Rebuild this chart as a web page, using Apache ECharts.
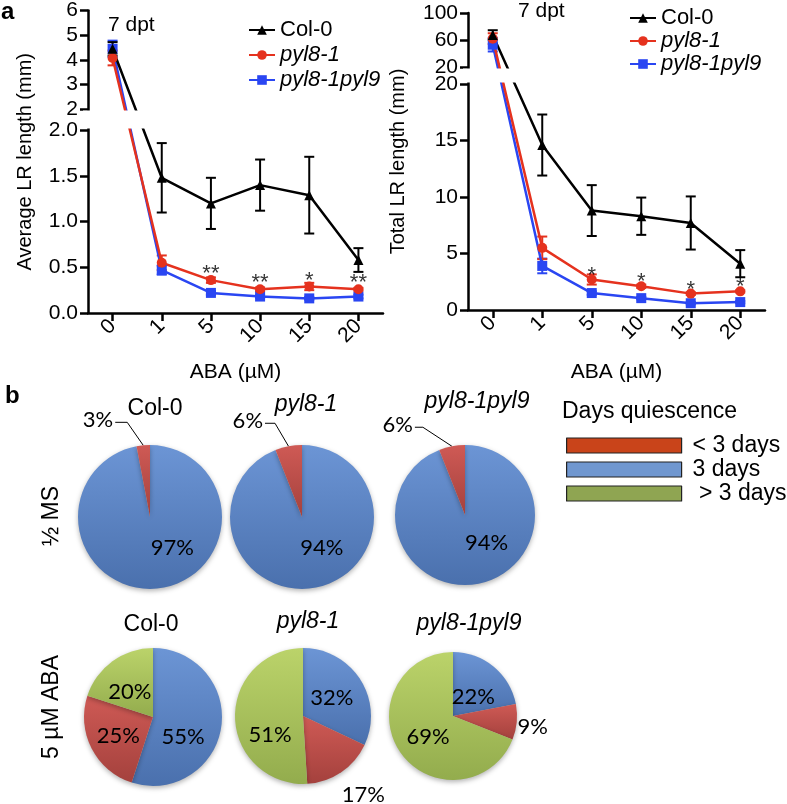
<!DOCTYPE html>
<html><head><meta charset="utf-8">
<script src="https://cdn.jsdelivr.net/npm/echarts@6/dist/echarts.min.js"></script>
<style>html,body{margin:0;padding:0;background:#fff}#c{width:787px;height:804px}</style>
</head><body><div id="c"></div>
<script>
// ---------------- DATA ----------------
const doses = ['0', '1', '5', '10', '15', '20'];
const lineNames = ['Col-0', 'pyl8-1', 'pyl8-1pyl9'];

const avgCol = [4.45, 1.48, 1.20, 1.40, 1.29, 0.58];
const avgColErr = [0.27, 0.38, 0.28, 0.28, 0.42, 0.13];
const avgPyl8 = [4.08, 0.55, 0.36, 0.26, 0.29, 0.26];
const avgPyl8Err = [0.30, 0.08, 0.03, 0.02, 0.04, 0.015];
const avgPyl89 = [4.45, 0.47, 0.22, 0.18, 0.16, 0.18];
const avgPyl89Err = [0.33, 0.05, 0.02, 0.015, 0.015, 0.02];
const avgSig = ['', '', '**', '**', '*', '**'];

const totCol = [67.5, 14.6, 8.8, 8.3, 7.7, 4.1];
const totColErr = [7, 2.7, 2.25, 1.65, 2.35, 1.2];
const totPyl8 = [62, 5.5, 2.7, 2.1, 1.45, 1.65];
const totPyl8Err = [8, 1.0, 0.45, 0.15, 0.12, 0.1];
const totPyl89 = [53, 3.9, 1.5, 1.05, 0.6, 0.7];
const totPyl89Err = [10, 0.65, 0.15, 0.1, 0.1, 0.1];
const totSig = ['', '', '*', '*', '*', '*'];

const avgTicksLow = [0, 0.5, 1, 1.5, 2];
const avgTicksHigh = [2, 3, 4, 5, 6];
const totTicksLow = [0, 5, 10, 15, 20];
const totTicksHigh = [20, 60, 100];

const pieGenotypes = ['Col-0', 'pyl8-1', 'pyl8-1pyl9'];
const quiescenceClasses = ['< 3 days', '3 days', '> 3 days'];
const msThree = [97, 94, 94];
const msLess = [3, 6, 6];
const msMore = [0, 0, 0];
const abaThree = [55, 32, 22];
const abaLess = [25, 17, 9];
const abaMore = [20, 51, 69];

// ---------------- LAYOUT / STYLE ----------------
const FONT = 'Liberation Sans';
const PIEFONT = 'Lato';

function makeBreak(lowMax, highMin, highMax, lowPx, gapPx, highPx) {
  return {
    total: lowPx + gapPx + highPx, lowPx, gapPx, highPx,
    map(v, seg) {
      const high = seg ? seg === 'high' : v > lowMax;
      return high ? lowPx + gapPx + (v - highMin) / (highMax - highMin) * highPx : v / lowMax * lowPx;
    }
  };
}
const avgBrk = makeBreak(2, 2, 6, 183, 21, 99);
const totBrk = makeBreak(20, 20, 100, 226, 17, 54);
const gridDefs = [
  {left: 88, top: 10, width: 295, height: avgBrk.total},
  {left: 468, top: 13, width: 297, height: totBrk.total}
];

function tickList(brk, low, high, lowFmt) {
  return low.map(v => ({pos: brk.map(v, 'low'), label: lowFmt(v)}))
    .concat(high.map(v => ({pos: brk.map(v, 'high'), label: String(v)})));
}
const avgTicks = tickList(avgBrk, avgTicksLow, avgTicksHigh, v => v.toFixed(1));
const totTicks = tickList(totBrk, totTicksLow, totTicksHigh, v => String(v));

const styles = {
  'Col-0': {color: '#000000', symbol: 'triangle', size: 10},
  'pyl8-1': {color: '#E5321E', symbol: 'circle', size: 10},
  'pyl8-1pyl9': {color: '#2A46F2', symbol: 'rect', size: 10}
};

function yAxisFor(gi, brk, ticks, name, nameGap) {
  const pos = ticks.map(t => t.pos);
  return {
    type: 'value', gridIndex: gi, min: 0, max: brk.total,
    name: name, nameLocation: 'middle', nameGap: nameGap,
    nameTextStyle: {fontSize: 20, fontFamily: FONT, color: '#000'},
    axisLine: {show: true, lineStyle: {color: '#000', width: 2.5}},
    axisTick: {show: true, length: 8, lineStyle: {color: '#000', width: 2.5}, customValues: pos},
    axisLabel: {
      customValues: pos, fontSize: 21, fontFamily: FONT, color: '#000', margin: 10,
      formatter: v => { for (const t of ticks) if (Math.abs(t.pos - v) < 0.01) return t.label; return ''; }
    },
    splitLine: {show: false}
  };
}
function xAxisFor(gi, nameGap) {
  return {
    type: 'category', gridIndex: gi, data: doses, boundaryGap: true,
    name: 'ABA (µM)', nameLocation: 'middle', nameGap: nameGap,
    nameTextStyle: {fontSize: 21, fontFamily: FONT, color: '#000'},
    axisLine: {show: true, lineStyle: {color: '#000', width: 2.5}},
    axisTick: {show: true, alignWithLabel: true, length: 8, lineStyle: {color: '#000', width: 2.5}},
    axisLabel: {rotate: 45, fontSize: 21, fontFamily: FONT, color: '#000', margin: 10, interval: 0},
    splitLine: {show: false}
  };
}

function errRender(color) {
  return function (params, api) {
    const x = api.value(0);
    const lo = api.coord([x, api.value(1)]);
    const hi = api.coord([x, api.value(2)]);
    const w = 5;
    const st = {stroke: color, lineWidth: 2};
    return {type: 'group', children: [
      {type: 'line', shape: {x1: lo[0], y1: lo[1], x2: hi[0], y2: hi[1]}, style: st},
      {type: 'line', shape: {x1: lo[0] - w, y1: lo[1], x2: lo[0] + w, y2: lo[1]}, style: st},
      {type: 'line', shape: {x1: hi[0] - w, y1: hi[1], x2: hi[0] + w, y2: hi[1]}, style: st}
    ]};
  };
}

function panelSeries(gi, brk, sets, sig, starOffset) {
  const out = [];
  const order = ['pyl8-1pyl9', 'pyl8-1', 'Col-0'];
  order.forEach(name => {
    const s = sets[name], st = styles[name];
    out.push({
      type: 'custom', xAxisIndex: gi, yAxisIndex: gi, silent: true, z: 3,
      renderItem: errRender(st.color), encode: {x: 0, y: [1, 2]},
      data: s.v.map((v, i) => [i, brk.map(v - s.e[i]), brk.map(v + s.e[i])])
    });
    out.push({
      type: 'line', name: name, xAxisIndex: gi, yAxisIndex: gi, silent: true, z: 4,
      data: s.v.map(v => brk.map(v)),
      symbol: st.symbol, symbolSize: st.size, showSymbol: true,
      lineStyle: {color: st.color, width: 2.5},
      itemStyle: {color: st.color}
    });
  });
  out.push({
    type: 'scatter', xAxisIndex: gi, yAxisIndex: gi, silent: true, z: 6,
    data: sets['pyl8-1'].v.map(v => brk.map(v)),
    symbolSize: 1, itemStyle: {color: 'rgba(0,0,0,0)'},
    label: {show: true, position: 'inside', offset: [0, starOffset], fontSize: 22, fontFamily: FONT, color: '#000',
      formatter: p => sig[p.dataIndex]}
  });
  return out;
}

const avgSets = {
  'Col-0': {v: avgCol, e: avgColErr}, 'pyl8-1': {v: avgPyl8, e: avgPyl8Err}, 'pyl8-1pyl9': {v: avgPyl89, e: avgPyl89Err}
};
const totSets = {
  'Col-0': {v: totCol, e: totColErr}, 'pyl8-1': {v: totPyl8, e: totPyl8Err}, 'pyl8-1pyl9': {v: totPyl89, e: totPyl89Err}
};

// ---------------- PIES ----------------
const grad = (a, b) => new echarts.graphic.LinearGradient(0, 0, 0, 1, [{offset: 0, color: a}, {offset: 1, color: b}]);
const pieColors = {
  '3 days': grad('#6C95D5', '#4A70AD'),
  '< 3 days': grad('#CF5A55', '#A4413D'),
  '> 3 days': grad('#BBD36A', '#93AC4D')
};
const pieLayout = [
  {vals: [msThree, msLess, msMore], g: 0, center: [150, 517], r: 72,
   lab: {'3 days': {dx: 19, dy: -5}, '< 3 days': {leader: [-16, -23, 12]}}},
  {vals: [msThree, msLess, msMore], g: 1, center: [302, 517], r: 72,
   lab: {'3 days': {dx: 13, dy: -4}, '< 3 days': {leader: [-13.5, -23, 10]}}},
  {vals: [msThree, msLess, msMore], g: 2, center: [465, 515], r: 70,
   lab: {'3 days': {dx: 15, dy: -6}, '< 3 days': {leader: [-29, -19, 8]}}},
  {vals: [abaThree, abaLess, abaMore], g: 0, center: [153, 717], r: 69,
   lab: {'3 days': {dx: -4, dy: 15}, '< 3 days': {dx: -4, dy: 3}, '> 3 days': {dx: -3, dy: 3}}},
  {vals: [abaThree, abaLess, abaMore], g: 1, center: [303, 716], r: 68,
   lab: {'3 days': {}, '< 3 days': {rf: 1.45, dx: 5, dy: -3, out: true}, '> 3 days': {dx: 1, dy: 18}}},
  {vals: [abaThree, abaLess, abaMore], g: 2, center: [453, 716], r: 64,
   lab: {'3 days': {dy: 6}, '< 3 days': {rf: 1.25, dy: 3, out: true}, '> 3 days': {dx: 1.5, dy: 3}}}
];

function pieSeries(lay) {
  const names = ['3 days', '< 3 days', '> 3 days'];
  const items = names.map((n, k) => ({name: n, value: lay.vals[k][lay.g]})).filter(d => d.value > 0);
  const total = items.reduce((a, d) => a + d.value, 0);
  let cum = 0;
  items.forEach(d => { d.mid = (cum + d.value / 2) / total * 360; cum += d.value; });
  const cx = lay.center[0], cy = lay.center[1], r = lay.r;
  const data = items.map(d => {
    const spec = lay.lab[d.name] || {};
    const item = {name: d.name, value: d.value, itemStyle: {color: pieColors[d.name]}};
    if (spec.leader) {
      item.label = {position: 'outside'};
      item.labelLine = {show: true, length: 10, length2: 8, lineStyle: {color: '#000', width: 1}};
    } else if (spec.out) {
      item.label = {position: 'outside'};
      item.labelLine = {show: false};
    }
    return item;
  });
  return {
    type: 'pie', center: lay.center, radius: r, startAngle: 90, clockwise: true,
    avoidLabelOverlap: false, silent: true, data: data,
    itemStyle: {borderWidth: 0, shadowBlur: 5, shadowColor: 'rgba(0,0,0,0.3)', shadowOffsetY: 2},
    label: {show: true, position: 'inside', formatter: '{c}%', fontSize: 22, fontFamily: PIEFONT, color: '#000'},
    labelLine: {show: false},
    labelLayout: function (params) {
      const d = items[params.dataIndex];
      const spec = lay.lab[d.name] || {};
      const a = d.mid * Math.PI / 180, s = Math.sin(a), c = Math.cos(a);
      if (spec.leader) {
        const edge = [cx + r * s, cy - r * c];
        const elbow = [edge[0] + spec.leader[0], edge[1] + spec.leader[1]];
        const end = [elbow[0] - spec.leader[2], elbow[1]];
        return {x: end[0] - 2, y: end[1] - 2, align: 'right', verticalAlign: 'middle', labelLinePoints: [edge, elbow, end]};
      }
      const R = (spec.rf || 0.5) * r;
      return {x: cx + R * s + (spec.dx || 0), y: cy - R * c + (spec.dy || 0), align: 'center', verticalAlign: 'middle'};
    }
  };
}

// ---------------- TEXT ----------------
function txt(x, y, text, size, opts) {
  opts = opts || {};
  const font = (opts.italic ? 'italic ' : '') + (opts.bold ? 'bold ' : '') + size + 'px ' + (opts.family || FONT);
  const align = opts.align || 'center';
  return {type: 'text', x: x, y: y, rotation: opts.rot || 0, z: 120, silent: true,
    style: {text: text, font: font, fill: '#000', textAlign: align, textVerticalAlign: 'middle', align: align, verticalAlign: 'middle'}};
}

const chart = echarts.init(document.getElementById('c'));
const legendText = {
  fontSize: 22, fontFamily: FONT, color: '#000',
  rich: {it: {fontStyle: 'italic', fontSize: 22, fontFamily: FONT, color: '#000'}}
};
const legendFmt = n => n === 'Col-0' ? n : '{it|' + n + '}';

const option = {
  animation: false,
  backgroundColor: '#fff',
  textStyle: {fontFamily: FONT},
  grid: gridDefs.map(g => Object.assign({containLabel: false}, g)),
  xAxis: [xAxisFor(0, 49), xAxisFor(1, 52)],
  yAxis: [
    yAxisFor(0, avgBrk, avgTicks, 'Average LR length (mm)', 53),
    yAxisFor(1, totBrk, totTicks, 'Total LR length (mm)', 60)
  ],
  legend: [
    {data: lineNames, orient: 'vertical', left: 243, top: 14, itemWidth: 26, itemHeight: 12, itemGap: 3,
     textStyle: legendText, formatter: legendFmt, selectedMode: false},
    {data: lineNames, orient: 'vertical', left: 624, top: 2, itemWidth: 26, itemHeight: 12, itemGap: 1,
     textStyle: legendText, formatter: legendFmt, selectedMode: false},
    {data: [
       {name: '< 3 days', itemStyle: {color: '#C9441A', borderColor: '#222', borderWidth: 1.2}},
       {name: '3 days', itemStyle: {color: '#7097D0', borderColor: '#222', borderWidth: 1.2}},
       {name: '> 3 days', itemStyle: {color: '#8FA552', borderColor: '#222', borderWidth: 1.2}}],
     orient: 'vertical', left: 561, top: 429, icon: 'rect', itemWidth: 115, itemHeight: 15, itemGap: 1,
     selectedMode: false,
     formatter: n => n === '> 3 days' ? ' ' + n : n,
     textStyle: {fontSize: 23, lineHeight: 23, fontFamily: FONT, color: '#000', padding: [0, 0, 0, 6]}}
  ],
  series: []
    .concat(panelSeries(0, avgBrk, avgSets, avgSig, -6))
    .concat(panelSeries(1, totBrk, totSets, totSig, -4))
    .concat(pieLayout.map(pieSeries)),
  graphic: [
    {type: 'rect', z: 100, silent: true,
     shape: {x: gridDefs[0].left - 5, y: gridDefs[0].top + avgBrk.highPx + 1.6, width: 120, height: avgBrk.gapPx - 3.2},
     style: {fill: '#fff'}},
    {type: 'rect', z: 100, silent: true,
     shape: {x: gridDefs[1].left - 5, y: gridDefs[1].top + totBrk.highPx + 1.6, width: 120, height: totBrk.gapPx - 3.2},
     style: {fill: '#fff'}},
    txt(1, 12, 'a', 24, {bold: true, align: 'left'}),
    txt(5, 396, 'b', 24, {bold: true, align: 'left'}),
    txt(108, 25, '7 dpt', 21, {align: 'left'}),
    txt(518, 11, '7 dpt', 21, {align: 'left'}),
    txt(155, 409, pieGenotypes[0], 23),
    txt(306, 405, pieGenotypes[1], 23, {italic: true}),
    txt(477, 402, pieGenotypes[2], 23, {italic: true}),
    txt(151, 625, pieGenotypes[0], 23),
    txt(308, 622, pieGenotypes[1], 23, {italic: true}),
    txt(469, 624, pieGenotypes[2], 23, {italic: true}),
    txt(52, 516, '½ MS', 23, {rot: Math.PI / 2}),
    txt(52, 707, '5 µM ABA', 23, {rot: Math.PI / 2}),
    txt(562, 412, 'Days quiescence', 23, {align: 'left'})
  ]
};
chart.setOption(option);
</script>
</body></html>
